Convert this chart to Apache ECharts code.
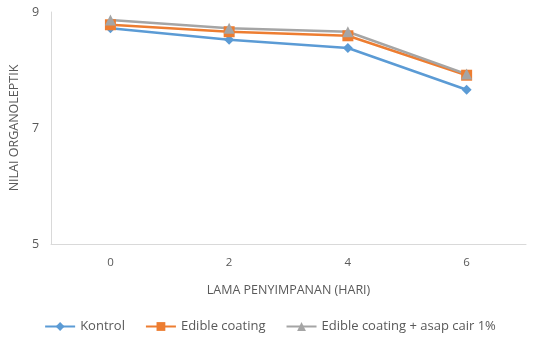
<!DOCTYPE html>
<html><head><meta charset="utf-8">
<script src="https://cdn.jsdelivr.net/npm/echarts@6/dist/echarts.min.js"></script>
<style>html,body{margin:0;padding:0;background:#fff}#c{width:540px;height:342px}</style>
</head><body><div id="c"></div>
<script>
const categories = ['0','2','4','6'];
const kontrol = [8.72, 8.52, 8.38, 7.66];
const edible = [8.78, 8.66, 8.59, 7.91];
const asap = [8.86, 8.72, 8.66, 7.93];
const seriesNames = ['Kontrol','Edible coating','Edible coating + asap cair 1%'];
const yTicks = [5, 7, 9];

const font = 'Open Sans';
const txt = '#595959';
const chart = echarts.init(document.getElementById('c'));
function s(name, data, color, symbol, size){
  return {name, type:'line', data, symbol, symbolSize:size, color,
    lineStyle:{width:2.5,color}, itemStyle:{color}};
}
chart.setOption({
  animation:false,
  textStyle:{fontFamily:font},
  grid:{left:47, top:12, right:14, bottom:98},
  xAxis:{type:'category', data:categories, boundaryGap:true,
    axisLine:{lineStyle:{color:'#D9D9D9'}}, axisTick:{show:false},
    axisLabel:{color:txt, fontSize:11.5, margin:13, fontFamily:font},
    name:'LAMA PENYIMPANAN (HARI)', nameLocation:'middle', nameGap:40,
    nameTextStyle:{color:txt, fontSize:12.5, fontFamily:font}},
  yAxis:{type:'value', min:5, max:9, interval:2,
    axisLine:{show:true, lineStyle:{color:'#D9D9D9'}}, axisTick:{show:false},
    splitLine:{show:false},
    axisLabel:{color:txt, fontSize:12.5, margin:12, fontFamily:font,
      formatter:v=>yTicks.includes(v)?String(v):''},
    name:'NILAI ORGANOLEPTIK', nameLocation:'middle', nameGap:28,
    nameTextStyle:{color:txt, fontSize:12.5, fontFamily:font}},
  legend:{bottom:4, left:'center', itemWidth:30, itemHeight:11, itemGap:20,
    textStyle:{color:txt, fontSize:13, fontFamily:font},
    data:seriesNames},
  series:[
    s(seriesNames[0], kontrol, '#5B9BD5', 'diamond', 10),
    s(seriesNames[1], edible, '#ED7D31', 'rect', 11),
    s(seriesNames[2], asap, '#A5A5A5', 'triangle', 11)
  ]
});
</script></body></html>
